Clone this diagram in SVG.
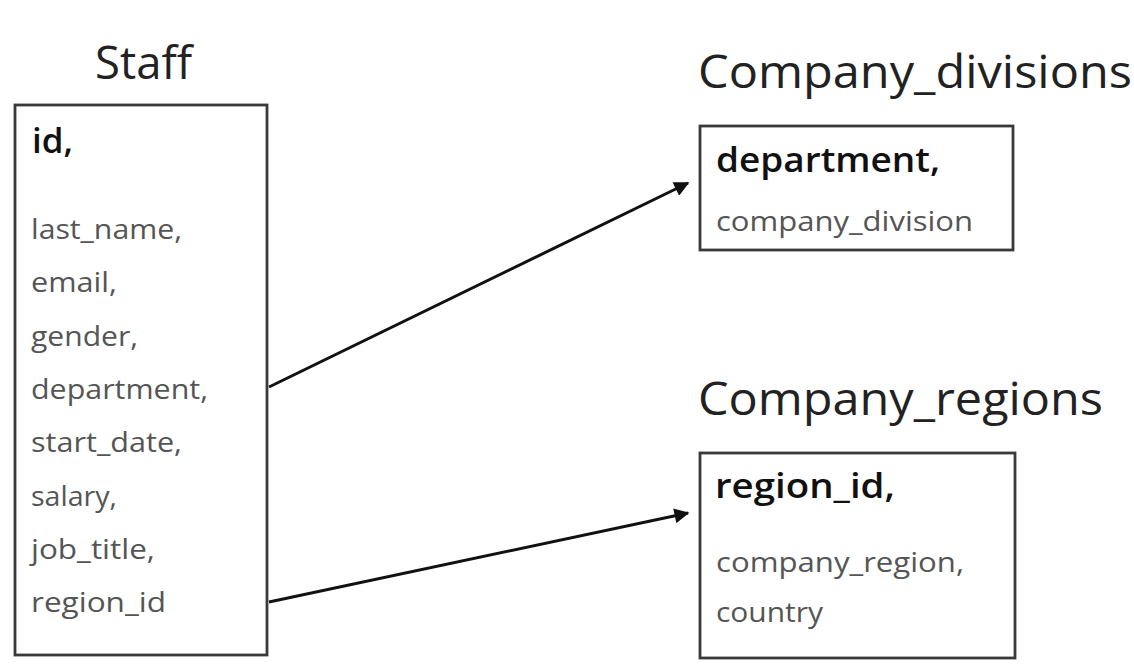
<svg xmlns="http://www.w3.org/2000/svg" width="1134" height="672" viewBox="0 0 1134 672">
<style>
.title{font-family:"Open Sans",Lato,sans-serif;font-size:45px;fill:#222}
.key{font-family:"Open Sans",Lato,sans-serif;font-size:34px;font-weight:600;fill:#111}
.fld{font-family:"Open Sans",Lato,sans-serif;font-size:28px;fill:#555}
.box{fill:#fff;stroke:#3a3a3a;stroke-width:2.8}
.conn{stroke:#111;stroke-width:3;fill:none;marker-end:url(#arr)}
</style>
<defs>
<marker id="arr" viewBox="0 0 10 10" refX="9" refY="5" markerWidth="5.5" markerHeight="5" orient="auto" markerUnits="strokeWidth">
<path d="M0,0 L10,5 L0,10 z" fill="#111"/>
</marker>
</defs>
<rect width="1134" height="672" fill="#fff"/>
<g id="staff">
<text class="title" x="95" y="79" textLength="97" lengthAdjust="spacingAndGlyphs">Staff</text>
<rect class="box" x="15" y="105" width="252" height="550"/>
<text class="key" x="32" y="153" textLength="41" lengthAdjust="spacingAndGlyphs">id,</text>
<text class="fld" x="31" y="239" textLength="151" lengthAdjust="spacingAndGlyphs">last_name,</text>
<text class="fld" x="31" y="292.3" textLength="86" lengthAdjust="spacingAndGlyphs">email,</text>
<text class="fld" x="31" y="345.6" textLength="107" lengthAdjust="spacingAndGlyphs">gender,</text>
<text class="fld" x="31" y="398.9" textLength="177" lengthAdjust="spacingAndGlyphs">department,</text>
<text class="fld" x="31" y="452.2" textLength="151" lengthAdjust="spacingAndGlyphs">start_date,</text>
<text class="fld" x="31" y="505.5" textLength="86" lengthAdjust="spacingAndGlyphs">salary,</text>
<text class="fld" x="31" y="558.8" textLength="124" lengthAdjust="spacingAndGlyphs">job_title,</text>
<text class="fld" x="31" y="612" textLength="135" lengthAdjust="spacingAndGlyphs">region_id</text>
</g>
<g id="company_divisions">
<text class="title" x="698" y="88" textLength="434" lengthAdjust="spacingAndGlyphs">Company_divisions</text>
<rect class="box" x="700" y="126" width="313" height="124"/>
<text class="key" x="716" y="172" textLength="224" lengthAdjust="spacingAndGlyphs">department,</text>
<text class="fld" x="716" y="231" textLength="257" lengthAdjust="spacingAndGlyphs">company_division</text>
</g>
<g id="company_regions">
<text class="title" x="698" y="415" textLength="405" lengthAdjust="spacingAndGlyphs">Company_regions</text>
<rect class="box" x="700" y="453" width="315" height="205"/>
<text class="key" x="715" y="498" textLength="180" lengthAdjust="spacingAndGlyphs">region_id,</text>
<text class="fld" x="716" y="572" textLength="248" lengthAdjust="spacingAndGlyphs">company_region,</text>
<text class="fld" x="716" y="622" textLength="107" lengthAdjust="spacingAndGlyphs">country</text>
</g>
<g id="connectors">
<line class="conn" x1="269" y1="387" x2="688" y2="183"/>
<line class="conn" x1="269" y1="602" x2="688" y2="513"/>
</g>
</svg>
